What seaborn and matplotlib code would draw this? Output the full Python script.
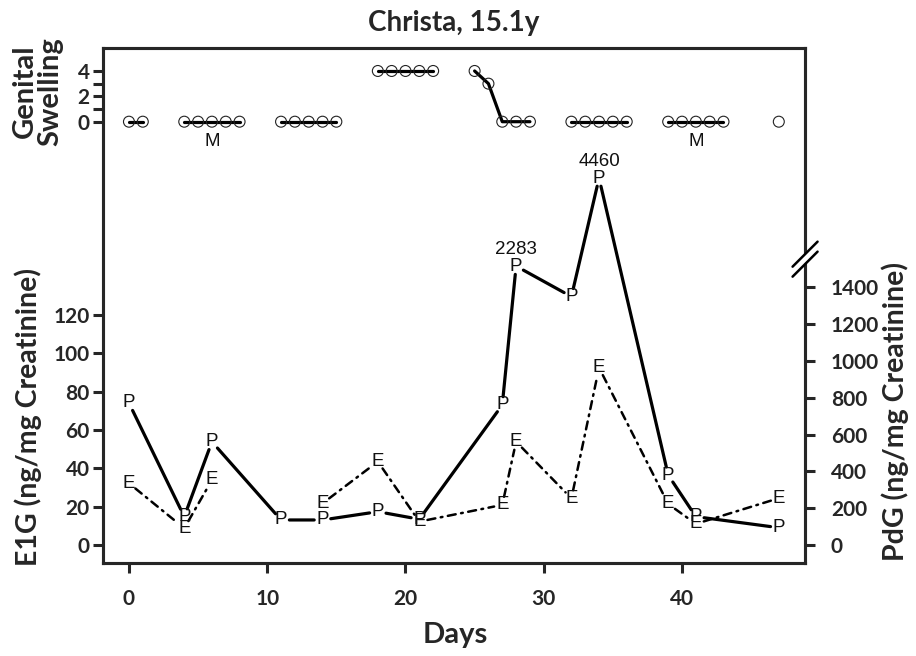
import numpy as np
import pandas as pd
import matplotlib
matplotlib.use("Agg")
import matplotlib.pyplot as plt
import seaborn as sns

# hormone samples (day of study)
days = [0, 4, 6, 11, 14, 18, 21, 27, 28, 32, 34, 39, 41, 47]
pdg = [772, 154, 561, 136, 136, 181, 140, 761, 2283, 1350, 4460, 380, 154, 94]
e1g = [32.2, 8.7, 33.9, np.nan, 21.7, 43.5, 12.2, 20.9, 53.9, 24.3, 92.5, 21.4, 11.0, 24.4]
pdg_labelled = [2283, 4460]

# genital swelling scores
swell_days = [0, 1, 4, 5, 6, 7, 8, 11, 12, 13, 14, 15, 18, 19, 20, 21, 22,
              25, 26, 27, 28, 29, 32, 33, 34, 35, 36, 39, 40, 41, 42, 43, 47]
swell = [0, 0, 0, 0, 0, 0, 0, 0, 0, 0, 0, 0, 4, 4, 4, 4, 4,
         4, 3, 0, 0, 0, 0, 0, 0, 0, 0, 0, 0, 0, 0, 0, 0]
menses_days = [6, 41]

day_ticks = [0, 10, 20, 30, 40]
e1g_ticks = [0, 20, 40, 60, 80, 100, 120]
pdg_ticks = [0, 200, 400, 600, 800, 1000, 1200, 1400]
swell_ticks = [0, 1, 2, 3, 4]
swell_ticklabels = ["0", "", "2", "", "4"]

# PdG axis is linear up to 1400 and squashed above (broken axis)
KNOT_IN = [-1000, 1400, 2300, 4500, 10000]
KNOT_OUT = [-1000, 1400, 1518, 2003, 3216]


def fwd(v):
    return np.interp(np.asarray(v, dtype=float), KNOT_IN, KNOT_OUT)


def inv(v):
    return np.interp(np.asarray(v, dtype=float), KNOT_OUT, KNOT_IN)


def connect(axis, xs, ys, lw, ls):
    """Join points with gaps round the letters, like R's type='b'."""
    for x0, y0, x1, y1 in zip(xs[:-1], ys[:-1], xs[1:], ys[1:]):
        if np.isnan(y0) or np.isnan(y1):
            continue
        axis.annotate("", xy=(x1, y1), xytext=(x0, y0),
                      arrowprops=dict(arrowstyle="-", shrinkA=6, shrinkB=6,
                                      color="black", lw=lw, linestyle=ls))


def letters(axis, xs, ys, char):
    for x, y in zip(xs, ys):
        if np.isnan(y):
            continue
        axis.text(x, y, char, ha="center", va="center", fontsize=13.5,
                  family="Liberation Sans", color="#111111")


sns.set_style("ticks")
plt.rcParams["font.family"] = ["Lato", "DejaVu Sans"]
plt.rcParams["axes.linewidth"] = 2.2

fig = plt.figure(figsize=(9.16, 6.56), dpi=100)
ax = fig.add_axes([0.1121, 0.1418, 0.7668, 0.785])
ax2 = ax.twinx()
ax3 = ax.twinx()

TICK_FS = 15

# E1G (left)
ax.set_xlim(-1.9, 48.9)
ax.set_ylim(-9.4, 259.3)
ax.set_xticks(day_ticks, [str(d) for d in day_ticks], fontweight="bold", fontsize=TICK_FS)
ax.set_yticks(e1g_ticks, [str(t) for t in e1g_ticks], fontweight="bold", fontsize=TICK_FS)
ax.tick_params(axis="x", length=7.5, width=2.2, pad=11)
ax.tick_params(axis="y", length=7.5, width=2.2, pad=2)

# PdG (right)
ax2.set_yscale("function", functions=(fwd, inv))
ax2.set_ylim(-97.8, 7666)
ax2.set_yticks(pdg_ticks, [str(t) for t in pdg_ticks], fontweight="bold", fontsize=TICK_FS)
ax2.yaxis.set_minor_locator(matplotlib.ticker.NullLocator())
ax2.tick_params(axis="y", length=7.5, width=2.2, pad=11)

# genital swelling (top, ticks on the left)
ax3.set_ylim(-34.8, 5.81)
ax3.yaxis.tick_left()
ax3.set_yticks(swell_ticks, swell_ticklabels, fontweight="bold", fontsize=TICK_FS)
ax3.yaxis.set_minor_locator(matplotlib.ticker.NullLocator())
ax3.tick_params(axis="y", length=7.5, width=2.2, pad=2)
for s in ax3.spines.values():
    s.set_visible(False)

sw = pd.DataFrame({"day": swell_days, "swelling": swell})
sw["run"] = (sw["day"].diff() != 1).cumsum()
sns.lineplot(data=sw, x="day", y="swelling", units="run", estimator=None,
             color="black", lw=2.3, ax=ax3, legend=False)
sns.scatterplot(data=sw, x="day", y="swelling", marker="o", s=62,
                facecolor="none", edgecolor="#222222", linewidth=0.8,
                ax=ax3, legend=False, zorder=3)
for d in menses_days:
    ax3.text(d, -1.6, "M", ha="center", va="center", fontsize=13.5,
             family="Liberation Sans", color="#111111")
ax3.set_xlabel("")
ax3.set_ylabel("")

# hormone lines
connect(ax, days, e1g, lw=1.8, ls=(0, (3.2, 2.2, 0.7, 2.2)))
letters(ax, days, e1g, "E")
connect(ax2, days, pdg, lw=2.3, ls="-")
letters(ax2, days, pdg, "P")
for d, v in zip(days, pdg):
    if v in pdg_labelled:
        ax2.annotate(str(v), xy=(d, v), xytext=(0, 12), textcoords="offset points",
                     ha="center", va="center", fontsize=13.5,
                     family="Liberation Sans", color="#111111")

# axis break marks on the right spine
bx, by, dx, dy, gap = 1.0, 0.590, 0.0178, 0.0243, 0.0097
ax2.plot([bx - dx * 0.6, bx + dx * 0.6], [by - dy * 0.6, by + dy * 0.6],
         transform=ax2.transAxes, color="white", lw=4, clip_on=False, zorder=5)
for off in (gap, -gap):
    ax2.plot([bx - dx, bx + dx], [by + off - dy, by + off + dy],
             transform=ax2.transAxes, color="black", lw=1.8, clip_on=False, zorder=6)

ax.set_xlabel("")
ax.set_ylabel("")
ax2.set_ylabel("")

fig.text(0.4956, 0.965, "Christa, 15.1y", ha="center", va="center",
         fontsize=20, fontweight="bold")
fig.text(0.4967, 0.032, "Days", ha="center", va="center",
         fontsize=21, fontweight="bold")
fig.text(0.031, 0.364, "E1G (ng/mg Creatinine)", rotation=90, ha="center",
         va="center", fontsize=20.5, fontweight="bold")
fig.text(0.977, 0.372, "PdG (ng/mg Creatinine)", rotation=90, ha="center",
         va="center", fontsize=20.5, fontweight="bold")
fig.text(0.041, 0.861, "Genital\nSwelling", rotation=90, ha="center",
         va="center", fontsize=21, fontweight="bold", linespacing=0.95)

fig.savefig("out.png", dpi=100)
